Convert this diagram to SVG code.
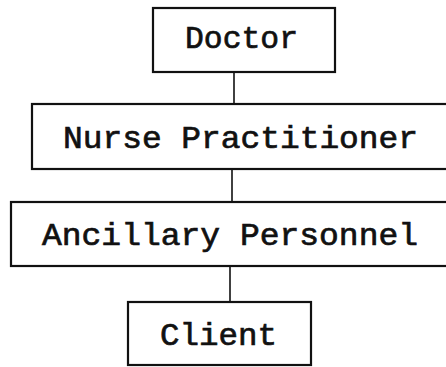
<svg xmlns="http://www.w3.org/2000/svg" width="446" height="367" viewBox="0 0 446 367">
<style>
.box{fill:#fff;stroke:#111;stroke-width:2.2}
.lbl{font-family:"Liberation Mono","Courier New",monospace;font-size:32px;fill:#111;stroke:#111;stroke-width:0.7}
.conn{stroke:#111;stroke-width:1.6;fill:none}
</style>
<rect width="446" height="367" fill="#fff"/>
<g id="connectors">
<line class="conn" x1="234" y1="72" x2="234" y2="104"/>
<line class="conn" x1="232" y1="169" x2="232" y2="202"/>
<line class="conn" x1="230" y1="266" x2="230" y2="302"/>
</g>
<g id="doctor">
<rect class="box" x="153" y="8" width="182" height="64"/>
<text class="lbl" x="185" y="48" textLength="113" lengthAdjust="spacingAndGlyphs">Doctor</text>
</g>
<g id="nurse">
<rect class="box" x="32" y="104" width="430" height="65"/>
<text class="lbl" x="63" y="148" textLength="355" lengthAdjust="spacingAndGlyphs">Nurse Practitioner</text>
</g>
<g id="ancillary">
<rect class="box" x="11" y="202" width="450" height="64"/>
<text class="lbl" x="42" y="245" textLength="376" lengthAdjust="spacingAndGlyphs">Ancillary Personnel</text>
</g>
<g id="client">
<rect class="box" x="128" y="302" width="183" height="63"/>
<text class="lbl" x="160" y="345" textLength="117" lengthAdjust="spacingAndGlyphs">Client</text>
</g>
</svg>
